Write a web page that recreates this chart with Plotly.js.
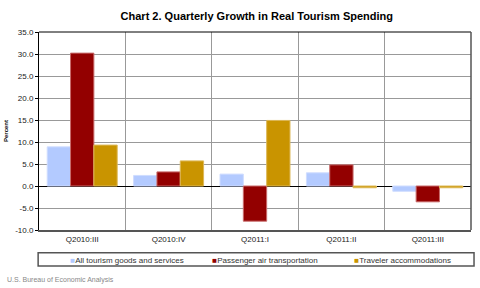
<!DOCTYPE html>
<html>
<head>
<meta charset="utf-8">
<script src="https://cdn.plot.ly/plotly-3.0.1.min.js"></script>
<style>
  html, body { margin: 0; padding: 0; background: #fff; }
  #chart { width: 480px; height: 288px; }
</style>
</head>
<body>
<div id="chart"></div>
<script>
// Quarters on the x-axis
const quarters = ["Q2010:III", "Q2010:IV", "Q2011:I", "Q2011:II", "Q2011:III"];

// Percent change per series
const allTourism = [8.9, 2.4, 2.7, 3.0, -1.2];
const airTransport = [30.2, 3.2, -8.0, 4.8, -3.6];
const accommodations = [9.3, 5.7, 14.9, -0.4, -0.4];

const seriesNames = ["All tourism goods and services", "Passenger air transportation", "Traveler accommodations"];
const seriesColors = ["#b3caff", "#930000", "#c99400"];
const seriesEdges = ["#cfdcff", "#c86a6a", "#ddb858"];

// y ticks
const yTicks = [35, 30, 25, 20, 15, 10, 5, 0, -5, -10];
const yTickText = yTicks.map(v => v.toFixed(1));

const allSeries = [allTourism, airTransport, accommodations];

// bars (legend is drawn by the entries below)
const bars = allSeries.map((vals, i) => ({
    type: 'bar',
    x: quarters,
    y: vals,
    name: seriesNames[i],
    showlegend: false,
    marker: { color: seriesColors[i], line: { color: seriesEdges[i], width: 1 } },
    hoverinfo: 'x+y+name'
}));

// legend-only entries, small coloured square written in the text
const legendEntries = seriesNames.map((name, i) => ({
    type: 'scatter',
    mode: 'markers',
    x: [null],
    y: [null],
    name: '<span style="color:' + seriesColors[i] + '">■</span>' + name,
    marker: { size: 1, color: 'rgba(0,0,0,0)' }
}));

const layout = {
    width: 480,
    height: 288,
    margin: { l: 39, r: 9, t: 32, b: 58 },
    paper_bgcolor: '#fff',
    plot_bgcolor: '#fff',
    font: { family: 'Liberation Sans, Arial, sans-serif', size: 8, color: '#222' },
    title: {
        text: '<b>Chart 2. Quarterly Growth in Real Tourism Spending</b>',
        font: { size: 11, color: '#000' },
        x: 0.535,
        xanchor: 'center',
        y: 0.945,
        yanchor: 'middle'
    },
    barmode: 'group',
    bargap: 0.19,
    bargroupgap: 0,
    xaxis: {
        type: 'category',
        tickson: 'boundaries',
        showgrid: true,
        gridcolor: '#999',
        gridwidth: 1,
        ticks: '',
        showline: true,
        linecolor: '#555',
        linewidth: 2,
        tickfont: { size: 8, color: '#222' },
        fixedrange: true
    },
    yaxis: {
        range: [-10, 35],
        tickvals: yTicks,
        ticktext: yTickText,
        ticks: 'outside',
        ticklen: 3,
        tickcolor: '#000',
        showgrid: true,
        gridcolor: '#999',
        gridwidth: 1,
        zeroline: true,
        zerolinecolor: '#000',
        zerolinewidth: 1,
        showline: true,
        linecolor: '#000',
        linewidth: 1,
        tickfont: { size: 8, color: '#222' },
        title: { text: '<b>Percent</b>', font: { size: 6, color: '#000' }, standoff: 6 },
        fixedrange: true
    },
    showlegend: true,
    legend: {
        orientation: 'h',
        x: -0.02,
        xanchor: 'left',
        y: -0.149,
        yanchor: 'middle',
        font: { size: 8, color: '#333' },
        entrywidth: 97,
        bgcolor: 'rgba(0,0,0,0)',
        itemwidth: 30
    },
    shapes: [
        // top and right borders of the plot
        { type: 'line', xref: 'paper', yref: 'paper', x0: 0, x1: 1, y0: 1, y1: 1, line: { color: '#000', width: 1 } },
        { type: 'line', xref: 'paper', yref: 'paper', x0: 1, x1: 1, y0: 0, y1: 1, line: { color: '#555', width: 1.5 } },
        // legend box
        { type: 'rect', xref: 'paper', yref: 'paper', x0: -0.002, x1: 1.007, y0: -0.115, y1: -0.182,
          line: { color: '#555', width: 1.5 }, fillcolor: 'rgba(0,0,0,0)' }
    ],
    annotations: [
        {
            text: 'U.S. Bureau of Economic Analysis',
            xref: 'paper', yref: 'paper',
            x: -0.078, y: -0.252,
            xanchor: 'left', yanchor: 'middle',
            showarrow: false,
            font: { size: 7, color: '#888' }
        }
    ]
};

Plotly.newPlot('chart', [...bars, ...legendEntries], layout, { displayModeBar: false, staticPlot: true });
</script>
</body>
</html>
